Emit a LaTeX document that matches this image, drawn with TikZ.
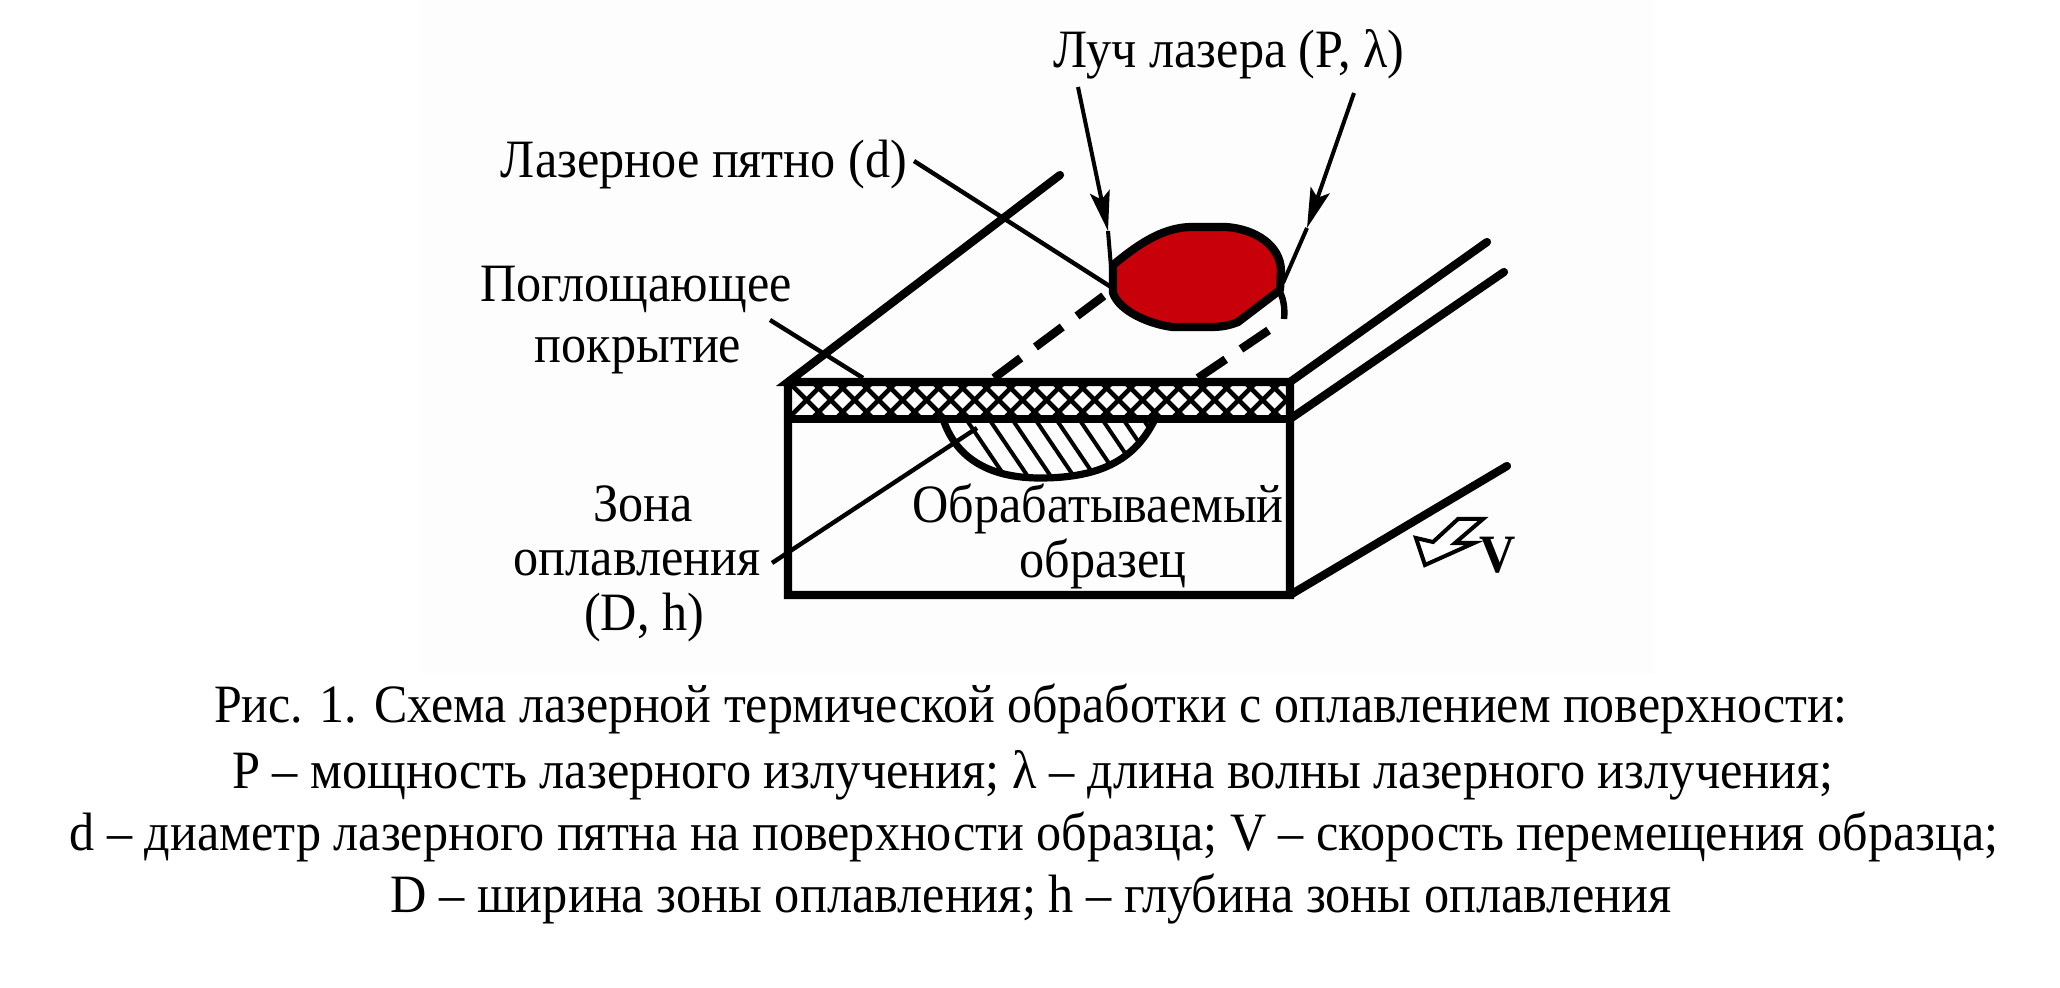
\documentclass[tikz,border=0pt]{standalone}
\usepackage{fontspec}
\setmainfont{Liberation Serif}
\usetikzlibrary{arrows.meta}
\definecolor{spotred}{HTML}{C8000A}
\definecolor{paperwhite}{HTML}{FDFDFD}
\tikzstyle{textbase} = [anchor=base,inner sep=0pt,font=\fontsize{27}{30}\selectfont]
\tikzstyle{tag} = [textbase,xscale=0.93,transform shape]
\tikzstyle{capline} = [textbase,xscale=#1,transform shape]
\tikzstyle{body} = [draw,line width=4.1pt,line cap=round,line join=miter]
\tikzstyle{leader} = [draw,line width=2.2pt]
\tikzstyle{beam} = [draw,line width=2pt]
\tikzstyle{track} = [draw,line width=4.2pt,dash pattern=on 16.7pt off 9.2pt]
\tikzstyle{hatch} = [draw,line width=2pt]

\begin{document}
\begin{tikzpicture}[x=0.5pt,y=-0.5pt]
    \useasboundingbox (0,0) rectangle (2060,988);
    \fill[paperwhite] (420,0) rectangle (1655,673);

    % points of the sample
    \foreach \x/\y/\name in {788/382/ltop, 1290/382/rtop, 788/419/lband, 1290/419/rband, 788/595/lbot, 1290/595/rbot,
        1060/175/lback, 1487/242/rbacka, 1504/272/rbackb, 1507/466/rbackc,
        994/378/tracka, 1109/292/trackb, 1198/378/trackc, 1272/328/trackd}
        \coordinate (\name) at (\x,\y);

    % points of the beam and of the leaders
    \foreach \x/\y/\name in {1078/87/beamla, 1108/231/beamlb, 1111/267/beamlc, 1354/93/beamra, 1307/228/beamrb, 1283/283/beamrc,
        914/161/spotfrom, 1111/287/spotto, 770/320/coatfrom, 863/378/coatto, 772/563/zonefrom, 977/428/zoneto}
        \coordinate (\name) at (\x,\y);

    % laser spot
    \draw[body,fill=spotred,line join=round] (1113,265) .. controls (1135,247) and (1160,228) .. (1190,227)
        -- (1226,227) .. controls (1255,229) and (1280,245) .. (1281,270) -- (1280,290) -- (1238,322)
        .. controls (1228,326) and (1220,327) .. (1211,327) -- (1172,327) .. controls (1150,324) and (1120,312) .. (1113,293) -- cycle;
    \draw[line width=3.2pt] (1280,292) .. controls (1284,300) and (1285,310) .. (1284,319);

    % dashed tracks
    \path[track] (tracka) -- (trackb);
    \path[track] (trackc) -- (trackd);

    % coating hatch
    \begin{scope}
        \clip (788,382) rectangle (1290,419);
        \foreach \k in {0,...,21}
        {
            \draw[line width=2.3pt] (806.5+24*\k-30,370) -- (806.5+24*\k+30,430);
            \draw[line width=2.3pt] (806.5+24*\k+30,370) -- (806.5+24*\k-30,430);
        }
    \end{scope}

    % melt zone
    \begin{scope}
        \clip (943,419) .. controls (955,455) and (985,478) .. (1040,478) .. controls (1100,478) and (1135,460) .. (1155,419) -- cycle;
        \foreach \x in {966,989,1012,1035,1056,1079,1102,1123,1143}
            \path[hatch] (\x,419) -- (\x+44,484);
    \end{scope}
    \draw[line width=3.6pt] (943,419) .. controls (955,455) and (985,478) .. (1040,478) .. controls (1100,478) and (1135,460) .. (1155,419);

    % sample outline
    \path[body] (lback) -- (ltop) -- (rtop) -- (rbot) -- (lbot) -- (ltop);
    \path[body] (lband) -- (rband);
    \path[body] (rtop) -- (rbacka);
    \path[body] (rband) -- (rbackb);
    \path[body] (rbot) -- (rbackc);

    % beam
    \path[beam,-{Stealth[length=20pt,width=10pt,inset=4pt]}] (beamla) -- (beamlb);
    \path[beam] (beamlb) -- (beamlc);
    \path[beam,-{Stealth[length=20pt,width=10pt,inset=4pt]}] (beamra) -- (beamrb);
    \path[beam] (beamrb) -- (beamrc);

    % leaders
    \path[leader] (spotfrom) -- (spotto);
    \path[leader] (coatfrom) -- (coatto);
    \path[leader] (zonefrom) -- (zoneto);

    % speed arrow
    \draw[line width=2pt,fill=white,line join=miter] (1416,538) -- (1433,542) -- (1458,519) -- (1483,519) -- (1455,543) -- (1474,543) -- (1425,565) -- cycle;

    % labels
    \foreach \x/\y/\name/\txt in {1229/68/lbeam/{Луч лазера (P, λ)}, 704/178/lspot/{Лазерное пятно (d)},
        636/302/lcoata/{Поглощающее}, 638/363/lcoatb/{покрытие},
        643/522/lzonea/{Зона}, 637/575/lzoneb/{оплавления}, 644/630/lzonec/{(D, h)},
        1098/523/lsamplea/{Обрабатываемый}, 1103/577/lsampleb/{образец}}
        \node[tag] (\name) at (\x,\y) {\txt};
    \node[tag] (lspeed) at (1498,572) {\textbf{V}};

    % caption
    \node[capline=0.925] (capa) at (1031,722) {Рис. 1. Схема лазерной термической обработки с оплавлением поверхности:};
    \node[capline=0.933] (capb) at (1033,788) {P – мощность лазерного излучения; λ – длина волны лазерного излучения;};
    \node[capline=0.929] (capc) at (1034,850) {d – диаметр лазерного пятна на поверхности образца; V – скорость перемещения образца;};
    \node[capline=0.932] (capd) at (1031,912) {D – ширина зоны оплавления; h – глубина зоны оплавления};
\end{tikzpicture}
\end{document}
